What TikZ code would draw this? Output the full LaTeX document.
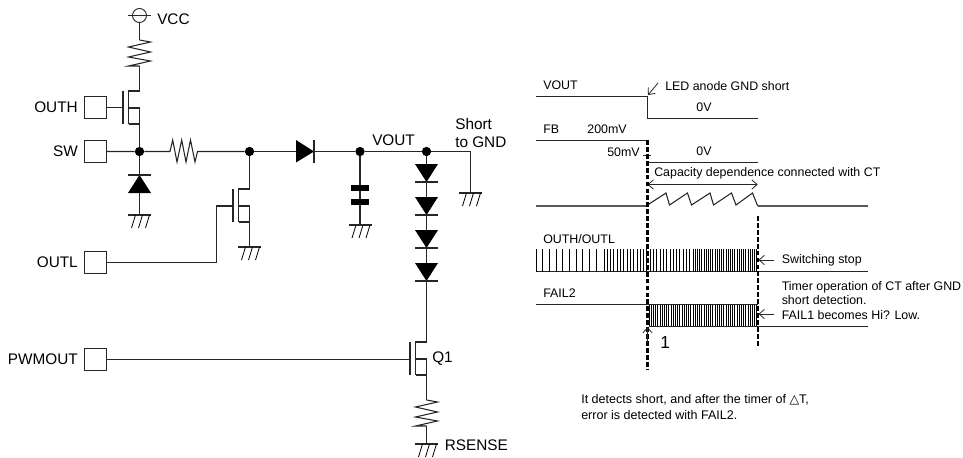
\documentclass[tikz,border=0pt]{standalone}
\usepackage{fontspec}
\setmainfont{Liberation Sans}
\newfontfamily\symfont{DejaVu Sans}
\usetikzlibrary{arrows.meta}

\tikzset{
    wire/.style={draw=black!85,line width=.8pt},
    dot/.style={circle,fill=black,inner sep=0pt,minimum size=7pt},
    pad/.style={draw=black!85,line width=.7pt,minimum width=16.5pt,minimum height=16.5pt,inner sep=0pt},
    biglabel/.style={inner sep=0pt,font=\fontsize{11.5}{13}\selectfont},
    smalllabel/.style={inner sep=0pt,font=\fontsize{9.3}{11}\selectfont},
    openarrow/.style={draw=black!85,line width=.6pt,-{Straight Barb[length=4pt,width=7pt]}},
    guide/.style={line width=1.7pt,dash pattern=on 3.6pt off 1.6pt},
    pics/gnd/.style={code={
        \draw[wire] (-11.5,0) -- (11.5,0);
        \foreach \i in {-4,3,10}
            \draw[line width=.6pt] (\i,0) -- (\i-4,13);
    }},
    pics/vres/.style={code={
        \draw[wire] (0,0) -- (11,2) -- (-11,7) -- (11,12) -- (-11,17) -- (11,21) -- (-11,26) -- (0,26);
    }},
    pics/ddown/.style={code={
        \fill (-11.5,0) -- (11.5,0) -- (0,18) -- cycle;
        \draw[wire] (-11.5,18) -- (11.5,18);
    }},
    pics/mos/.style={code={
        \draw[wire] (0,0) -- (-11,0) -- (-11,33);
        \draw[wire] (-11,17) -- (0,17) -- (0,33) -- (-11,33);
        \draw[wire] (-16.5,0) -- (-16.5,33);
    }},
}

\begin{document}
\begin{tikzpicture}[x=.75pt,y=-.75pt]
    \useasboundingbox (0,0) rectangle (963,457);

    % circuit
    \node[pad] (outh) at (95,107.5) {};
    \node[pad] (sw) at (95,151.5) {};
    \node[pad] (outl) at (95,262.5) {};
    \node[pad] (pwmout) at (95,359.5) {};
    \node[biglabel,anchor=east] (outhlabel) at (78,107) {OUTH};
    \node[biglabel,anchor=east] (swlabel) at (78,151) {SW};
    \node[biglabel,anchor=east] (outllabel) at (78,262) {OUTL};
    \node[biglabel,anchor=east] (pwmlabel) at (78,359) {PWMOUT};

    \node[circle,draw=black!85,line width=.7pt,minimum size=10.5pt,inner sep=0pt] (vcc) at (139.5,15.5) {};
    \draw[wire] (128,15.5) -- (151,15.5);
    \node[biglabel,anchor=west] (vcclabel) at (157,19) {VCC};

    \node[dot] (nsw) at (139.5,151.5) {};
    \node[dot] (nres) at (249.5,151.5) {};
    \node[dot] (nvout) at (360,151.5) {};
    \node[dot] (nled) at (426.5,151.5) {};
    \coordinate (nshort) at (470.5,151.5);

    \draw[wire] (vcc) -- (139.5,40);
    \pic at (139.5,40) {vres};
    \draw[wire] (139.5,66) -- (139.5,91);
    \pic at (139.5,91) {mos};
    \draw[wire] (outh) -- (122.5,107.5);
    \draw[wire] (139.5,124) -- (nsw);

    \draw[wire] (sw) -- (nsw) -- (170,151.5) -- (172.7,140) -- (177,162) -- (181.7,140) -- (186,162) -- (190.5,140) -- (195,162) -- (197.5,151.5) -- (nres);
    \draw[wire] (nres) -- (296,151.5);
    \fill (296,140) -- (314,151.5) -- (296,162.5) -- cycle;
    \draw[wire] (314,139.5) -- (314,162.5);
    \draw[wire] (314,151.5) -- (nvout) -- (nled) -- (nshort) -- (470.5,193);
    \pic at (470.5,193) {gnd};
    \node[biglabel,anchor=west] (voutlabel) at (372,140) {VOUT};
    \node[biglabel,anchor=north west,align=left] (shortlabel) at (455,118.5) {Short\\to GND};

    \draw[wire] (nsw) -- (139.5,175);
    \fill (128,193) -- (151,193) -- (139.5,175) -- cycle;
    \draw[wire] (128,175) -- (151,175);
    \draw[wire] (139.5,193) -- (139.5,215);
    \pic at (139.5,215) {gnd};

    \draw[wire] (nres) -- (249.5,189);
    \pic at (249.5,189) {mos};
    \draw[wire] (outl) -- (216.5,262.5) -- (216.5,206) -- (233,206);
    \draw[wire] (249.5,222) -- (249.5,247);
    \pic at (249.5,247) {gnd};

    \draw[wire] (nvout) -- (360,225);
    \fill (351,185) rectangle (369,191);
    \fill (351,199) rectangle (369,205);
    \pic at (360,225) {gnd};

    \draw[wire] (nled) -- (426.5,290);
    \foreach \y in {164,197,230,263}
        \pic at (426.5,\y) {ddown};
    \draw[wire] (426.5,290) -- (426.5,342);
    \pic at (426.5,342) {mos};
    \draw[wire] (pwmout) -- (410,359.5);
    \node[biglabel,anchor=west] (q1label) at (432,359) {Q1};
    \draw[wire] (426.5,375) -- (426.5,400);
    \pic at (426.5,400) {vres};
    \draw[wire] (426.5,426) -- (426.5,444);
    \pic at (426.5,444) {gnd};
    \node[biglabel,anchor=west] (senselabel) at (444.5,445) {RSENSE};

    % timing chart
    \node[smalllabel,anchor=west] (tvout) at (543,85) {VOUT};
    \node[smalllabel,anchor=west] (tled) at (665,86) {LED anode GND short};
    \node[smalllabel] (tzero) at (704,107) {0V};
    \node[smalllabel,anchor=west] (tfb) at (543,129) {FB};
    \node[smalllabel] (thigh) at (607,129) {200mV};
    \node[smalllabel,anchor=east] (tlow) at (640,152) {50mV};
    \node[smalllabel] (tzerob) at (704,151) {0V};
    \node[smalllabel,anchor=west] (tcap) at (654,173.5) {Capacity dependence connected with CT};
    \node[smalllabel,anchor=west] (tout) at (543,239) {OUTH/OUTL};
    \node[smalllabel,anchor=west] (tstop) at (781.5,260) {Switching stop};
    \node[smalllabel,anchor=west] (tfail) at (543,293) {FAIL2};
    \node[smalllabel,anchor=north west,align=left] (ttimer) at (781.5,281) {Timer operation of CT after GND\\short detection.\\FAIL1 becomes Hi?  Low.};
    \node[inner sep=0pt,anchor=west,font=\fontsize{13}{15}\selectfont] (tone) at (660,343) {1};
    \node[inner sep=0pt,anchor=north west,align=left,font=\fontsize{9.4}{11.5}\selectfont] (tnote) at (581,394.5) {It detects short, and after the timer of {\symfont △}T,\\error is detected with FAIL2.};

    \coordinate (ta) at (647.5,96.5);
    \coordinate (tb) at (647.5,140.5);
    \coordinate (tc) at (757.7,184.5);
    \coordinate (td) at (647.5,184.5);

    \draw[wire] (536,96.5) -- (ta) -- (647.5,118.5) -- (757.7,118.5);
    \draw[openarrow] (658,83) -- (648,95);
    \draw[wire] (536,140.5) -- (tb);
    \draw[wire] (647.5,162.5) -- (757.7,162.5);
    \draw[wire] (643,155.5) -- (651,155.5);
    \draw[openarrow,{Straight Barb[length=4pt,width=7pt]}-{Straight Barb[length=4pt,width=7pt]}] (td) -- (tc);

    \draw[line width=1.3pt,black!65] (536,206) -- (647.5,206);
    \draw[line width=1.3pt,black!65] (757.7,206) -- (868,206);
    \draw[wire] (647.5,205) -- (666,193) -- (669.5,205) -- (687.5,193) -- (691.5,205) -- (710,193) -- (713.5,205) -- (731.5,193) -- (736,205) -- (752.5,193) -- (757.7,206);

    \draw[wire] (536,271.5) -- (868,271.5);
    \foreach \x in {536,542.7,...,602}
        \draw[line width=.7pt] (\x,249.3) -- (\x,271.5);
    \foreach \x in {604,607.3,...,692}
        \draw[line width=.7pt] (\x,249.3) -- (\x,271.5);
    \foreach \x in {693,695.2,...,757}
        \draw[line width=.7pt] (\x,249.3) -- (\x,271.5);

    \draw[wire] (536,304.5) -- (757.7,304.5);
    \foreach \x in {649,651.2,...,757}
        \draw[line width=.7pt] (\x,304.5) -- (\x,326.5);
    \draw[wire] (649,326.5) -- (868,326.5);

    \draw[guide] (647.5,140) -- (647.5,370);
    \draw[guide] (757.7,216) -- (757.7,347);

    \draw[openarrow] (774,260) -- (758.5,260);
    \draw[openarrow] (774,314) -- (758.5,314);
    \draw[openarrow] (647.5,343) -- (647.5,327);
\end{tikzpicture}
\end{document}
